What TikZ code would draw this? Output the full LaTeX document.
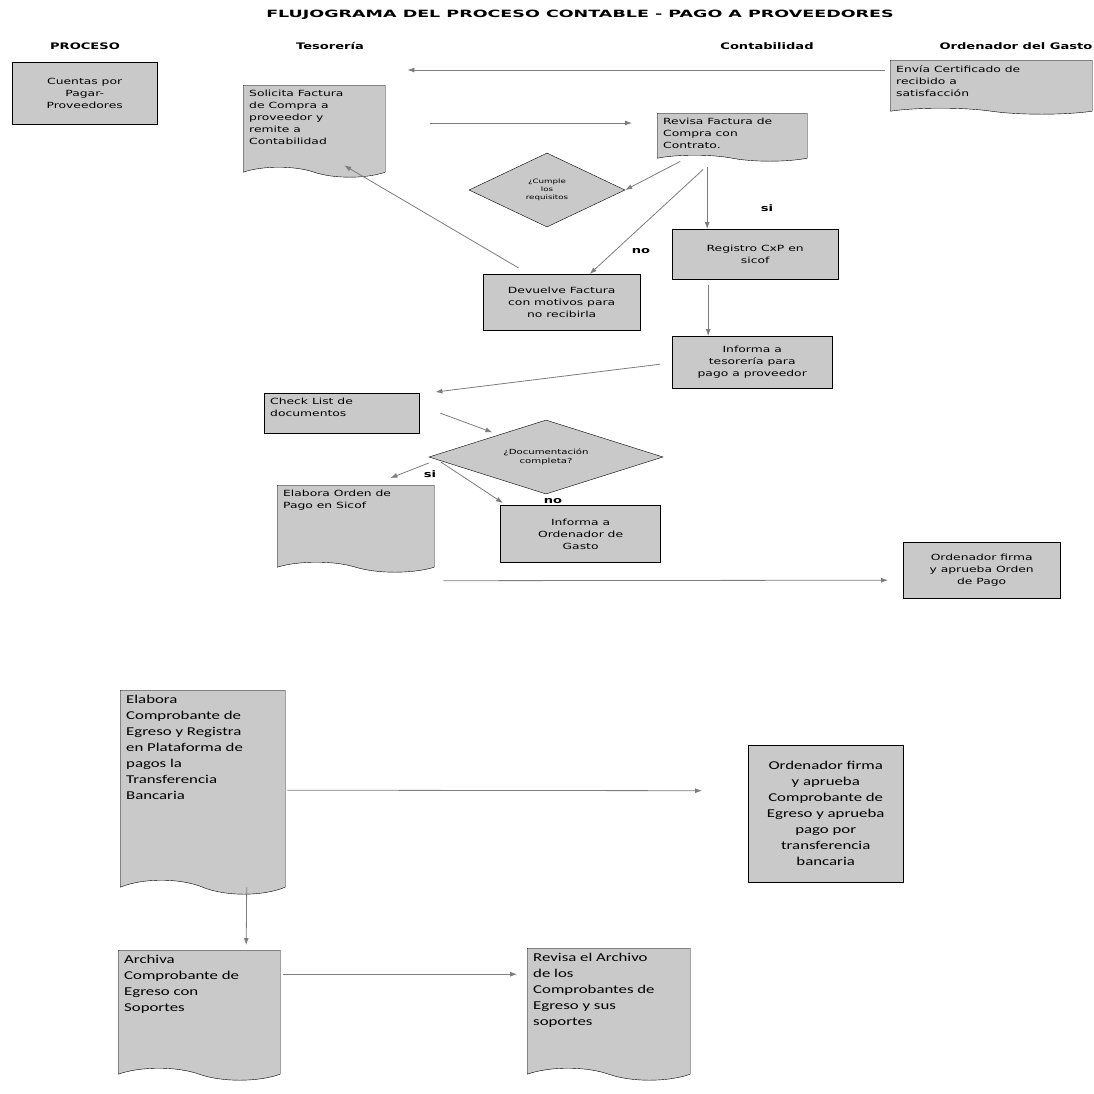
\documentclass[tikz,border=0pt]{standalone}
\usepackage{fontspec}
\newfontfamily\topfont[FakeStretch=1.45]{DejaVu Sans}
\newfontfamily\titlefont[FakeStretch=1.75]{DejaVu Sans}
\newfontfamily\botfont[FakeStretch=1.4]{Carlito}
\usetikzlibrary{shapes,arrows.meta,positioning}
\definecolor{boxgray}{RGB}{201,201,201}
\definecolor{linegray}{RGB}{125,125,125}
\tikzset{>={Latex[length=7pt,width=5pt]}, font=\topfont\fontsize{8.5}{12}\selectfont}
\tikzstyle{block} = [draw, fill=boxgray, rectangle, anchor=north west, inner sep=0pt, align=center]
\tikzstyle{doc} = [draw, fill=boxgray, tape, tape bend top=none, tape bend bottom=out and in, anchor=north west, inner xsep=6pt, inner ysep=5pt]
\tikzstyle{decision} = [draw, fill=boxgray, diamond, inner sep=0pt, align=center]
\tikzstyle{flow} = [->, draw=linegray, line width=0.8pt]
\tikzstyle{head} = [font=\topfont\bfseries\fontsize{9}{10}\selectfont]
\tikzstyle{tag} = [font=\topfont\bfseries\fontsize{9}{10}\selectfont]
\tikzstyle{lower} = [font=\botfont\fontsize{12}{16}\selectfont]
\newcommand{\doctext}[3]{\parbox[t][#2][t]{#1}{\raggedright #3}}

\begin{document}
\begin{tikzpicture}[x=1pt,y=-1pt]
	\useasboundingbox (0,0) rectangle (1094,1093);

	% titulo y carriles
	\node [font=\titlefont\bfseries\fontsize{10}{11}\selectfont] (title) at (580,15) {FLUJOGRAMA DEL PROCESO CONTABLE - PAGO A PROVEEDORES};
	\node [head] (h_proc) at (85,46) {PROCESO};
	\node [head] (h_tes) at (330,46) {Tesorería};
	\node [head] (h_cont) at (767,46) {Contabilidad};
	\node [head] (h_ord) at (1016,46) {Ordenador del Gasto};

	% parte superior
	\node [block, minimum width=145pt, minimum height=62pt] (cuentas) at (12,62) {Cuentas por\\Pagar-\\Proveedores};
	\node [doc, tape bend height=6pt] (envia) at (890,60) {\doctext{190pt}{38pt}{Envía Certificado de\\recibido a\\satisfacción}};
	\node [doc, tape bend height=10pt] (solicita) at (243,85) {\doctext{130pt}{72pt}{Solicita Factura\\de Compra a\\proveedor y\\remite a\\Contabilidad}};
	\node [doc, tape bend height=6pt] (revisa) at (657,113) {\doctext{138pt}{32pt}{Revisa Factura de\\Compra con\\Contrato.}};
	\node [decision, aspect=2, minimum width=156pt, minimum height=74pt, font=\topfont\fontsize{6}{8}\selectfont] (cumple) at (547,190) {¿Cumple\\los\\requisitos};
	\node [block, minimum width=166pt, minimum height=50pt] (registro) at (672,229) {Registro CxP en\\sicof};
	\node [block, minimum width=157pt, minimum height=56pt] (devuelve) at (483,274) {Devuelve Factura\\con motivos para\\no recibirla};
	\node [block, minimum width=160pt, minimum height=52pt] (informa) at (672,336) {Informa a\\tesorería para\\pago a proveedor};
	\node [block, align=left, inner xsep=6pt, inner ysep=5pt] (check) at (264,393) {\doctext{143pt}{30pt}{Check List de\\documentos}};
	\node [decision, aspect=3.2, minimum width=234pt, minimum height=74pt, font=\topfont\fontsize{7}{9}\selectfont] (completa) at (546,457) {¿Documentación\\completa?};
	\node [doc, tape bend height=10pt] (ordenpago) at (277,485) {\doctext{145pt}{67pt}{Elabora Orden de\\Pago en Sicof}};
	\node [block, line width=1.2pt, minimum width=160pt, minimum height=57pt] (informaord) at (500,505) {Informa a\\Ordenador de\\Gasto};
	\node [block, minimum width=157pt, minimum height=56pt] (firmaorden) at (903,542) {Ordenador firma\\y aprueba Orden\\de Pago};

	% parte inferior
	\node [doc, lower, tape bend height=14pt] (comprobante) at (120,690) {\doctext{153pt}{180pt}{Elabora\\Comprobante de\\Egreso y Registra\\en Plataforma de\\pagos la\\Transferencia\\Bancaria}};
	\node [block, lower, minimum width=155pt, minimum height=137pt] (firmacomp) at (748,745) {Ordenador firma\\y aprueba\\Comprobante de\\Egreso y aprueba\\pago por\\transferencia\\bancaria};
	\node [doc, lower, tape bend height=12pt] (archiva) at (118,950) {\doctext{150pt}{108pt}{Archiva\\Comprobante de\\Egreso con\\Soportes}};
	\node [doc, lower, tape bend height=12pt] (revisaarch) at (527,948) {\doctext{151pt}{110pt}{Revisa el Archivo\\de los\\Comprobantes de\\Egreso y sus\\soportes}};

	% etiquetas
	\node [tag] (si_a) at (767,208) {si};
	\node [tag] (no_a) at (641,251) {no};
	\node [tag] (si_b) at (430,474) {si};
	\node [tag] (no_b) at (553,501) {no};

	% conectores
	\draw [flow] ([xshift=-5pt,yshift=-10pt]envia.north west) -- ([xshift=22pt,yshift=15pt]solicita.north east);
	\draw [flow] ([xshift=45pt,yshift=-38pt]solicita.north east) -- ([xshift=-25pt,yshift=-10pt]revisa.north west);
	\draw [flow] ([xshift=-52pt,yshift=-6pt]revisa.south) -- (cumple.east);
	\draw [flow] ([xshift=-25pt,yshift=-12pt]revisa.south) -- ([xshift=-48pt]registro.north);
	\draw [flow] ([xshift=-29pt,yshift=-14pt]revisa.south) -- ([xshift=28pt]devuelve.north);
	\draw [flow] ([xshift=-43pt,yshift=6pt]devuelve.north) -- ([xshift=30pt,yshift=2pt]solicita.south);
	\draw [flow] ([xshift=-47pt,yshift=-6pt]registro.south) -- ([xshift=-44pt]informa.north);
	\draw [flow] ([xshift=-12pt,yshift=-2pt]informa.west) -- ([xshift=16pt,yshift=1pt]check.north east);
	\draw [flow] ([xshift=21pt]check.east) -- ([xshift=5pt,yshift=6pt]completa.north west);
	\draw [flow] ([yshift=-6pt]completa.west) -- ([xshift=-44pt,yshift=7pt]ordenpago.north east);
	\draw [flow] ([xshift=12pt,yshift=-5pt]completa.west) -- ([xshift=3pt,yshift=2pt]informaord.north west);
	\draw [flow] ([xshift=9pt,yshift=-57pt]ordenpago.east) -- ([xshift=-15pt,yshift=-10pt]firmaorden.west);
	\draw [flow] ([xshift=2pt,yshift=-5pt]comprobante.east) -- ([xshift=-46pt,yshift=23pt]firmacomp.west);
	\draw [flow] ([xshift=44pt,yshift=-7pt]comprobante.south) -- ([xshift=47pt,yshift=5pt]archiva.north);
	\draw [flow] ([xshift=3pt,yshift=35pt]archiva.east) -- ([xshift=-10pt,yshift=34pt]revisaarch.west);
\end{tikzpicture}
\end{document}
